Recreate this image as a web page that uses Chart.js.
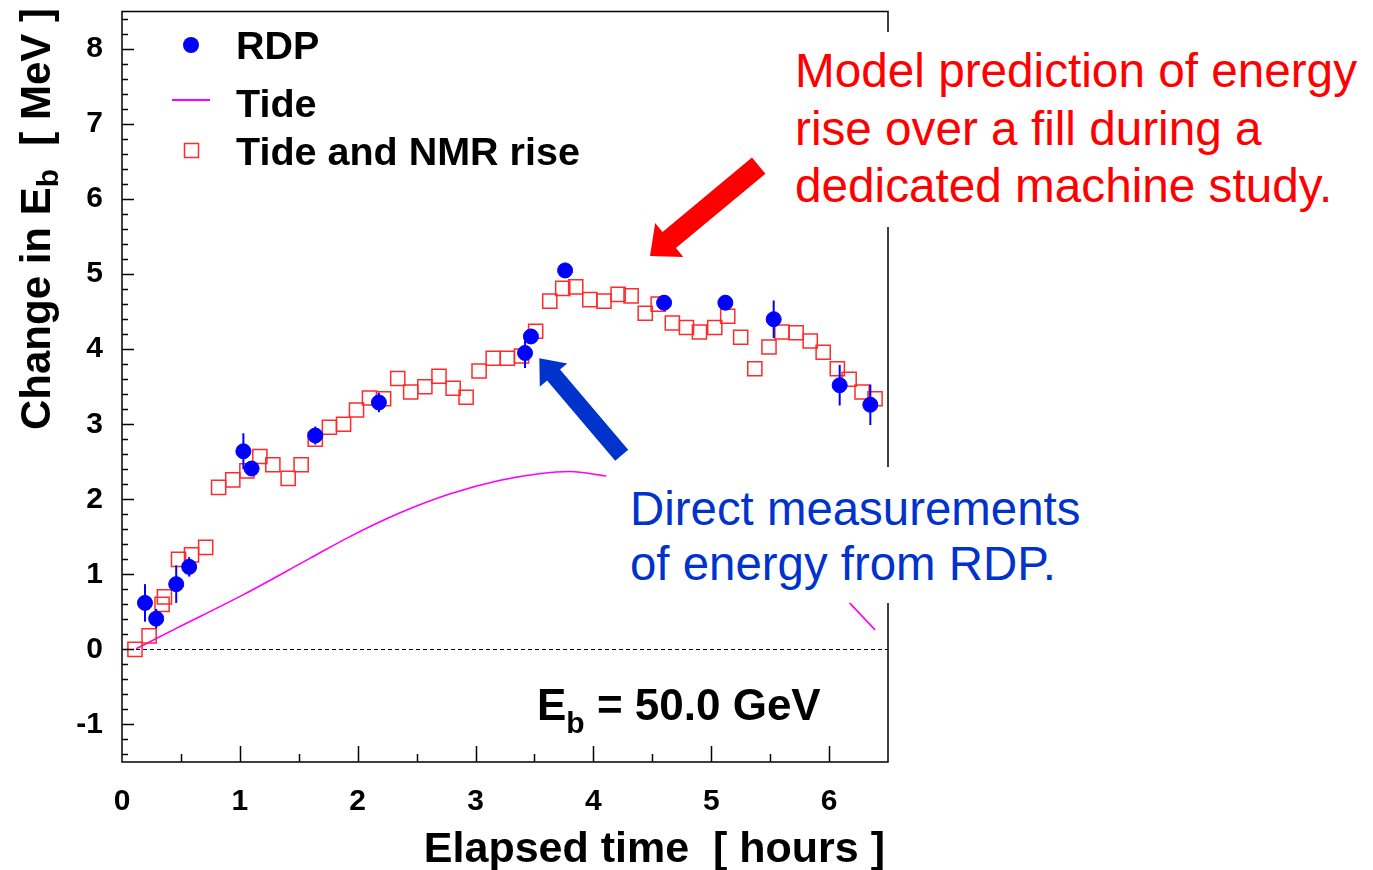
<!DOCTYPE html>
<html><head><meta charset="utf-8">
<script src="https://cdn.jsdelivr.net/npm/chart.js@4.4.1/dist/chart.umd.min.js"></script>
<style>
html,body{margin:0;padding:0;background:#fff;}
#wrap{position:relative;width:1373px;height:870px;overflow:hidden;}
#c{position:absolute;left:0;top:0;}
.note{position:absolute;background:#fff;font-family:"Liberation Sans",Arial,sans-serif;white-space:nowrap;}
.note div{position:absolute;}
</style></head><body>
<div id="wrap">
<canvas id="c" width="1373" height="870"></canvas>
<div class="note" style="left:780px;top:32px;width:593px;height:195px;color:#ff0000;font-size:47.7px;">
  <div style="left:15px;top:10px;line-height:57.5px;">Model prediction of energy<br>rise over a fill during a<br>dedicated machine study.</div>
</div>
<div class="note" style="left:608px;top:467px;width:482px;height:136px;color:#0033cc;font-size:47.4px;">
  <div style="left:22px;top:14px;line-height:55px;">Direct measurements<br>of energy from RDP.</div>
</div>
</div>
<script>
// ---- data ----
const rdpX   = [0.195, 0.29, 0.46, 0.57, 1.03, 1.10, 1.64, 2.18, 3.42, 3.47, 3.76, 4.60, 5.12, 5.53, 6.09, 6.35];
const rdpY   = [0.62, 0.41, 0.87, 1.10, 2.64, 2.41, 2.85, 3.29, 3.95, 4.17, 5.05, 4.62, 4.62, 4.40, 3.52, 3.26];
const rdpErr = [0.25, 0.13, 0.25, 0.13, 0.24, 0.10, 0.12, 0.13, 0.20, 0.10, 0.10, 0.10, 0.10, 0.25, 0.27, 0.27];

const tideX = [0.12, 0.46, 1.03, 1.59, 1.93, 2.36, 2.78, 3.20, 3.54, 3.80, 4.11, 5.00, 6.15, 6.39];
const tideY = [0.01, 0.28, 0.73, 1.21, 1.50, 1.82, 2.07, 2.25, 2.34, 2.37, 2.31, null, 0.66, 0.26];

const nmrX = [0.11, 0.23, 0.34, 0.36, 0.48, 0.59, 0.71, 0.82, 0.94, 1.06, 1.17, 1.28, 1.41, 1.52, 1.64, 1.76, 1.88, 1.99, 2.10, 2.22, 2.34, 2.45, 2.57, 2.69, 2.81, 2.92, 3.03, 3.15, 3.27, 3.39, 3.51, 3.63, 3.74, 3.85, 3.97, 4.09, 4.21, 4.32, 4.44, 4.55, 4.67, 4.79, 4.90, 5.03, 5.14, 5.25, 5.37, 5.49, 5.60, 5.72, 5.84, 5.95, 6.07, 6.17, 6.28, 6.39];
const nmrY = [0.00, 0.18, 0.60, 0.70, 1.20, 1.26, 1.36, 2.16, 2.26, 2.38, 2.57, 2.46, 2.28, 2.46, 2.80, 2.96, 3.00, 3.19, 3.35, 3.34, 3.61, 3.43, 3.50, 3.64, 3.48, 3.36, 3.71, 3.88, 3.88, 3.91, 4.24, 4.64, 4.81, 4.83, 4.66, 4.64, 4.73, 4.71, 4.48, 4.60, 4.35, 4.29, 4.23, 4.29, 4.44, 4.16, 3.74, 4.03, 4.23, 4.22, 4.11, 3.96, 3.74, 3.60, 3.43, 3.34];

const xTickValues = [0, 1, 2, 3, 4, 5, 6];
const yTickValues = [-1, 0, 1, 2, 3, 4, 5, 6, 7, 8];
const seriesNames = ['RDP', 'Tide', 'Tide and NMR rise'];
const xTitle = 'Elapsed time  [ hours ]';
const yTitleMain = 'Change in E', yTitleSub = 'b', yTitleEnd = '  [ MeV ]';
const ebLabelMain = 'E', ebLabelSub = 'b', ebLabelEnd = ' = 50.0 GeV';

// ---- styles ----
const FONT = '"Liberation Sans", Arial, sans-serif';
const RDP_COLOR = '#0000ff', TIDE_COLOR = '#ff00ff', NMR_COLOR = '#ff2a2a';

const zip = (xs, ys) => xs.map((x, i) => ({x: x, y: ys[i]}));

function arrow(ctx, tx, ty, hx, hy, shaftHalf, headLen, headHalf, color) {
  const dx = hx - tx, dy = hy - ty, L = Math.hypot(dx, dy);
  const ux = dx / L, uy = dy / L, nx = -uy, ny = ux;
  const bx = hx - ux * headLen, by = hy - uy * headLen;
  ctx.fillStyle = color;
  ctx.beginPath();
  ctx.moveTo(tx + nx * shaftHalf, ty + ny * shaftHalf);
  ctx.lineTo(bx + nx * shaftHalf, by + ny * shaftHalf);
  ctx.lineTo(bx + nx * headHalf, by + ny * headHalf);
  ctx.lineTo(hx, hy);
  ctx.lineTo(bx - nx * headHalf, by - ny * headHalf);
  ctx.lineTo(bx - nx * shaftHalf, by - ny * shaftHalf);
  ctx.lineTo(tx - nx * shaftHalf, ty - ny * shaftHalf);
  ctx.closePath();
  ctx.fill();
}

const deco = {
  id: 'deco',
  beforeDatasetsDraw(chart) {
    const {ctx, chartArea: a, scales: {y}} = chart;
    ctx.save();
    ctx.strokeStyle = '#000'; ctx.lineWidth = 1; ctx.setLineDash([4, 3]);
    const y0 = Math.round(y.getPixelForValue(0)) + 0.5;
    ctx.beginPath(); ctx.moveTo(a.left, y0); ctx.lineTo(a.right, y0); ctx.stroke();
    ctx.restore();
  },
  afterDatasetsDraw(chart) {
    const {ctx, chartArea: a, scales: {x, y}} = chart;
    ctx.save();
    // error bars
    ctx.strokeStyle = RDP_COLOR; ctx.lineWidth = 2;
    rdpX.forEach((xv, i) => {
      const px = x.getPixelForValue(xv);
      ctx.beginPath();
      ctx.moveTo(px, y.getPixelForValue(rdpY[i] - rdpErr[i]));
      ctx.lineTo(px, y.getPixelForValue(rdpY[i] + rdpErr[i]));
      ctx.stroke();
    });
    // frame
    ctx.strokeStyle = '#000'; ctx.lineWidth = 1.5;
    ctx.strokeRect(a.left, a.top, a.right - a.left, a.bottom - a.top);
    // inward ticks
    ctx.lineWidth = 1.5;
    ctx.beginPath();
    for (let k = -7; k <= 42; k++) {
      const v = k * 0.2; const py = Math.round(y.getPixelForValue(v)) + 0.5;
      const len = (k % 5 === 0) ? 12 : 6;
      ctx.moveTo(a.left, py); ctx.lineTo(a.left + len, py);
    }
    for (let k = 1; k <= 12; k++) {
      const v = k * 0.5; const px = Math.round(x.getPixelForValue(v)) + 0.5;
      const len = (k % 2 === 0) ? 16 : 8;
      ctx.moveTo(px, a.bottom); ctx.lineTo(px, a.bottom - len);
    }
    ctx.stroke();

    // legend
    ctx.fillStyle = RDP_COLOR;
    ctx.beginPath(); ctx.arc(191, 45, 8, 0, Math.PI * 2); ctx.fill();
    ctx.strokeStyle = TIDE_COLOR; ctx.lineWidth = 2;
    ctx.beginPath(); ctx.moveTo(172, 100); ctx.lineTo(210, 100); ctx.stroke();
    ctx.strokeStyle = NMR_COLOR; ctx.lineWidth = 1.5;
    ctx.strokeRect(184.5, 143.5, 14, 14);
    ctx.fillStyle = '#000'; ctx.font = 'bold 39.5px ' + FONT; ctx.textAlign = 'left'; ctx.textBaseline = 'alphabetic';
    ctx.fillText(seriesNames[0], 236, 59);
    ctx.fillText(seriesNames[1], 236, 117);
    ctx.fillText(seriesNames[2], 236, 165);

    // E_b label
    let cx = 537;
    ctx.font = 'bold 44px ' + FONT; ctx.fillText(ebLabelMain, cx, 720); cx += ctx.measureText(ebLabelMain).width;
    ctx.font = 'bold 30px ' + FONT; ctx.fillText(ebLabelSub, cx, 733); cx += ctx.measureText(ebLabelSub).width;
    ctx.font = 'bold 44px ' + FONT; ctx.fillText(ebLabelEnd, cx, 720);

    // x title
    ctx.font = 'bold 43px ' + FONT; ctx.textAlign = 'right';
    ctx.fillText(xTitle, 885, 862);

    // y title (rotated)
    ctx.textAlign = 'left';
    ctx.font = 'bold 42px ' + FONT; const w1 = ctx.measureText(yTitleMain).width, w3 = ctx.measureText(yTitleEnd).width;
    ctx.font = 'bold 30px ' + FONT; const w2 = ctx.measureText(yTitleSub).width;
    const W = w1 + w2 + w3;
    ctx.save();
    ctx.translate(50, 0); ctx.rotate(-Math.PI / 2);
    let u = -(8 + W);
    ctx.font = 'bold 42px ' + FONT; ctx.fillText(yTitleMain, u, 0); u += w1;
    ctx.font = 'bold 30px ' + FONT; ctx.fillText(yTitleSub, u, 8); u += w2;
    ctx.font = 'bold 42px ' + FONT; ctx.fillText(yTitleEnd, u, 0);
    ctx.restore();

    // annotation arrows
    arrow(ctx, 758.7, 165.7, 650, 256, 10.5, 25, 22, '#ff0000');
    arrow(ctx, 621.7, 455.3, 539.3, 358.3, 8.5, 22, 18, '#0033cc');
    ctx.restore();
  }
};

new Chart(document.getElementById('c'), {
  type: 'scatter',
  data: {
    datasets: [
      {label: seriesNames[0], data: zip(rdpX, rdpY), order: 0,
       pointStyle: 'circle', pointRadius: 7.5, backgroundColor: RDP_COLOR, borderColor: RDP_COLOR, borderWidth: 1},
      {label: seriesNames[1], data: zip(tideX, tideY), order: 2, showLine: true, spanGaps: false,
       pointRadius: 0, borderColor: TIDE_COLOR, borderWidth: 1.6, cubicInterpolationMode: 'monotone', fill: false},
      {label: seriesNames[2], data: zip(nmrX, nmrY), order: 1,
       pointStyle: 'rect', pointRadius: 10, backgroundColor: 'rgba(0,0,0,0)', borderColor: NMR_COLOR, borderWidth: 1.5}
    ]
  },
  options: {
    responsive: false, animation: false, devicePixelRatio: 1, events: [],
    layout: {padding: {top: 8, right: 485, left: 0, bottom: 0}},
    plugins: {legend: {display: false}, tooltip: {enabled: false}},
    scales: {
      x: {type: 'linear', min: 0, max: 6.5,
          afterBuildTicks: s => { s.ticks = xTickValues.map(v => ({value: v})); },
          afterFit: s => { s.height = 108; s.paddingLeft = 0; s.paddingRight = 0; },
          ticks: {color: '#000', font: {family: FONT, size: 30, weight: 'bold'}, padding: 22, maxRotation: 0, autoSkip: false},
          grid: {display: false, drawTicks: false}, border: {display: false}},
      y: {type: 'linear', min: -1.5, max: 8.5,
          afterBuildTicks: s => { s.ticks = yTickValues.map(v => ({value: v})); },
          afterFit: s => { s.width = 122; s.paddingTop = 0; s.paddingBottom = 0; },
          ticks: {color: '#000', font: {family: FONT, size: 30, weight: 'bold'}, padding: 19, autoSkip: false},
          grid: {display: false, drawTicks: false}, border: {display: false}}
    }
  },
  plugins: [deco]
});
</script>
</body></html>
